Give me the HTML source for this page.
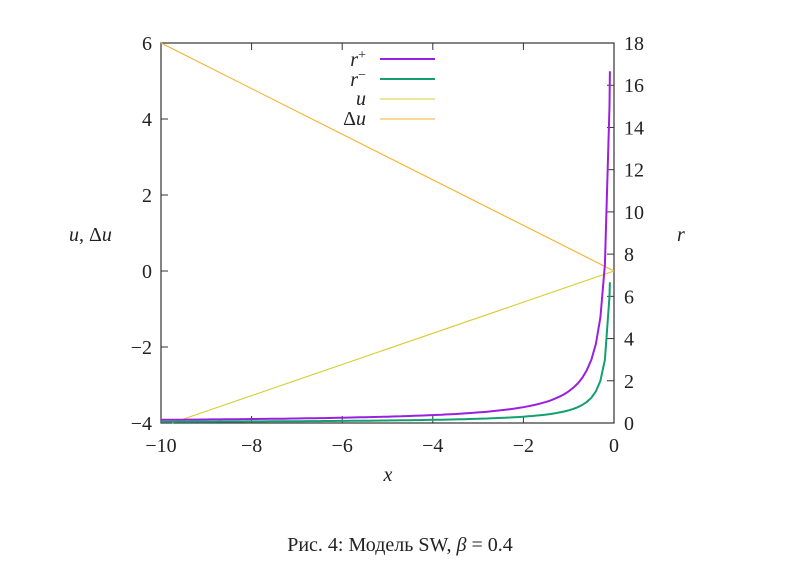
<!DOCTYPE html>
<html><head><meta charset="utf-8"><style>
body{margin:0;background:#fff;}
svg text{font-family:"Liberation Serif",serif;font-size:20px;fill:#222;}
</style></head><body>
<svg id="s" width="799" height="576" xmlns="http://www.w3.org/2000/svg">
<rect x="161" y="43" width="453" height="380" fill="none" stroke="#333" stroke-width="1.2"/>
<g id="ticks" stroke="#333" stroke-width="1"></g>
<g id="labels"></g>
<path id="du" fill="none" stroke="#f5b030" stroke-width="1.1" d="M161,43 L614,271"/>
<path id="u" fill="none" stroke="#d8cc30" stroke-width="1.1" d="M172,423 L614,271"/>
<path id="rp" fill="none" stroke="#9b1fe0" stroke-width="2"/>
<path id="rm" fill="none" stroke="#12a070" stroke-width="2"/>
<text x="366" y="66" text-anchor="end" font-style="italic">r<tspan dy="-7" font-size="14" font-style="normal">+</tspan></text>
<line x1="380" y1="59" x2="435" y2="59" stroke="#9b1fe0" stroke-width="2"/>
<text x="366" y="86" text-anchor="end" font-style="italic">r<tspan dy="-7" font-size="14" font-style="normal">−</tspan></text>
<line x1="380" y1="79" x2="435" y2="79" stroke="#12a070" stroke-width="2"/>
<text x="366" y="105" text-anchor="end" font-style="italic">u</text>
<line x1="380" y1="99" x2="435" y2="99" stroke="#d8cc30" stroke-width="1.1"/>
<text x="366" y="125" text-anchor="end"><tspan>Δ</tspan><tspan font-style="italic">u</tspan></text>
<line x1="380" y1="119" x2="435" y2="119" stroke="#f5b030" stroke-width="1.1"/>
<text x="69" y="241"><tspan font-style="italic">u</tspan>, Δ<tspan font-style="italic">u</tspan></text>
<text x="677" y="241" font-style="italic">r</text>
<text x="388" y="481" font-style="italic" text-anchor="middle">x</text>
<text x="400" y="551" text-anchor="middle">Рис. 4: Модель SW, <tspan font-style="italic">β</tspan> = 0.4</text>
</svg>
<script>
var ns="http://www.w3.org/2000/svg";
function X(x){return 614+x*45.3;}
function YL(v){return 423-(v+4)*38;}
function YR(v){return 423-v*21.11;}
var t=document.getElementById('ticks'),L=document.getElementById('labels');
function ln(a,b,c,d){var e=document.createElementNS(ns,'line');e.setAttribute('x1',a);e.setAttribute('y1',b);e.setAttribute('x2',c);e.setAttribute('y2',d);t.appendChild(e);}
function tx(x,y,s,anc){var e=document.createElementNS(ns,'text');e.setAttribute('x',x);e.setAttribute('y',y);e.setAttribute('text-anchor',anc);e.textContent=s;L.appendChild(e);}
for(var x=-10;x<=0;x+=2){ln(X(x),423,X(x),416);ln(X(x),43,X(x),50);tx(X(x),452,x<0?'−'+(-x):'0','middle');}
for(var v=-4;v<=6;v+=2){ln(161,YL(v),168,YL(v));tx(152,YL(v)+7,v<0?'−'+(-v):''+v,'end');}
for(var v=0;v<=18;v+=2){ln(614,YR(v),607,YR(v));tx(624,YR(v)+7,''+v,'start');}
var p='',m='';
for(var i=0;i<=100;i++){var x=-10+i*0.1;if(x>-0.09)x=-0.09;var ax=-x;
p+=(i?'L':'M')+X(x).toFixed(1)+','+YR(1.5/ax).toFixed(1);
m+=(i?'L':'M')+X(x).toFixed(1)+','+YR(0.6/ax).toFixed(1);}
document.getElementById('rp').setAttribute('d',p);
document.getElementById('rm').setAttribute('d',m);
</script>
</body></html>
